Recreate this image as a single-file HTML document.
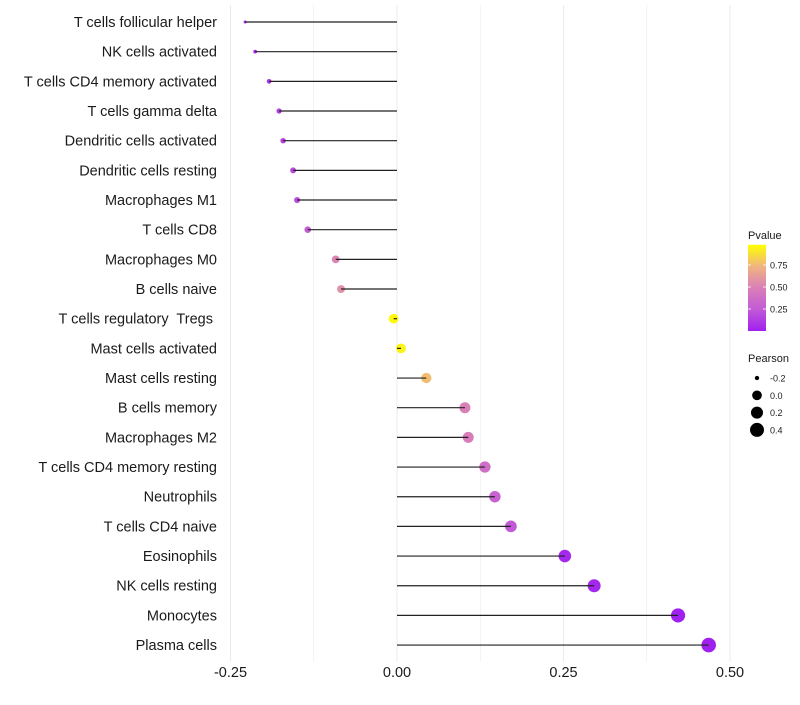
<!DOCTYPE html>
<html><head><meta charset="utf-8"><style>
body{margin:0;background:#fff;font-family:"Liberation Sans",Arial,sans-serif;}
text{white-space:pre;}
</style></head><body>
<svg id="chart" width="800" height="700" xmlns="http://www.w3.org/2000/svg"></svg>
<script>
const categories=["T cells follicular helper","NK cells activated","T cells CD4 memory activated","T cells gamma delta","Dendritic cells activated","Dendritic cells resting","Macrophages M1","T cells CD8","Macrophages M0","B cells naive","T cells regulatory  Tregs ","Mast cells activated","Mast cells resting","B cells memory","Macrophages M2","T cells CD4 memory resting","Neutrophils","T cells CD4 naive","Eosinophils","NK cells resting","Monocytes","Plasma cells"];
const pearson=[-0.228,-0.213,-0.192,-0.177,-0.171,-0.156,-0.150,-0.134,-0.092,-0.084,-0.005,0.006,0.044,0.102,0.107,0.132,0.147,0.171,0.252,0.296,0.422,0.468];
const pvalue=[0.02,0.05,0.08,0.12,0.13,0.18,0.2,0.27,0.52,0.58,0.98,0.96,0.78,0.5,0.48,0.38,0.3,0.25,0.04,0.03,0.001,0.0005];
const xTicks=[-0.25,0,0.25,0.5];
const xTickLabels=["-0.25","0.00","0.25","0.50"];
const pTicks=[0.25,0.5,0.75];
const sizeBreaks=[-0.2,0.0,0.2,0.4];

const NS="http://www.w3.org/2000/svg";
const svg=document.getElementById('chart');
const x=v=>397+v*666;
const y=i=>22+i*29.67;
const dia=v=>1.08*Math.sqrt(Math.max(8,v>=0?81+216*v:81+323*v));
const stops=[[0,[160,32,240]],[0.25,[194,90,214]],[0.5,[218,128,184]],[0.75,[240,180,128]],[1,[255,255,0]]];
function col(p){for(let k=1;k<stops.length;k++){if(p<=stops[k][0]){const a=stops[k-1],b=stops[k],t=(p-a[0])/(b[0]-a[0]);const c=a[1].map((u,j)=>Math.round(u+(b[1][j]-u)*t));return `rgb(${c})`;}}return 'rgb(255,255,0)';}
function mk(tag,attrs,parent){const e=document.createElementNS(NS,tag);for(const k in attrs)e.setAttribute(k,attrs[k]);(parent||svg).appendChild(e);return e;}
[-0.25,-0.125,0,0.125,0.25,0.375,0.5].forEach(v=>{
 const l=mk('line',{x1:x(v),x2:x(v),y1:5,y2:662,stroke:'#ebebeb','stroke-width':Number.isInteger(v*4)?1:0.6});
 
 
});
categories.forEach((c,i)=>{
 const pt=mk('circle',{cx:x(pearson[i]),cy:y(i),r:dia(pearson[i])/2,fill:col(pvalue[i])});
 
 
 const gl=mk('line',{x1:x(0),x2:x(pearson[i]),y1:y(i),y2:y(i),stroke:'#222','stroke-width':1.2});
 
 
 const t=mk('text',{x:217,y:y(i)+5,'text-anchor':'end','font-size':14.5,fill:'#1a1a1a'});
 t.textContent=c;
 
 
});
xTicks.forEach((v,i)=>{
 const t=mk('text',{x:x(v),y:677,'text-anchor':'middle','font-size':14.5,fill:'#1a1a1a'});
 t.textContent=xTickLabels[i];
 
 
});
const defs=mk('defs',{});
const lg=mk('linearGradient',{id:'pg',x1:0,y1:1,x2:0,y2:0},defs);
for(let k=0;k<=20;k++){mk('stop',{offset:k/20,'stop-color':col(k/20)},lg);}
const lt=mk('text',{x:748,y:239,'font-size':11,fill:'#1a1a1a'});lt.textContent='Pvalue';


const py=p=>331-p*88;
const bar=mk('rect',{x:748,y:py(0.98),width:18,height:py(0)-py(0.98),fill:'url(#pg)'});


pTicks.forEach(p=>{
 mk('line',{x1:748,x2:751,y1:py(p),y2:py(p),stroke:'#fff','stroke-width':0.8});
 mk('line',{x1:763,x2:766,y1:py(p),y2:py(p),stroke:'#fff','stroke-width':0.8});
 const t=mk('text',{x:770,y:py(p)+3.5,'font-size':9,fill:'#1a1a1a'});t.textContent=p.toFixed(2);
 
 
});
const st=mk('text',{x:748,y:362,'font-size':11,fill:'#1a1a1a'});st.textContent='Pearson';


sizeBreaks.forEach((v,i)=>{
 const cy=378+i*17.3;
 const c=mk('circle',{cx:757,cy:cy,r:dia(v)/2,fill:'#000'});
 
 
 const t=mk('text',{x:770,y:cy+3.5,'font-size':9,fill:'#1a1a1a'});t.textContent=v.toFixed(1);
 
 
});
</script>
</body></html>
